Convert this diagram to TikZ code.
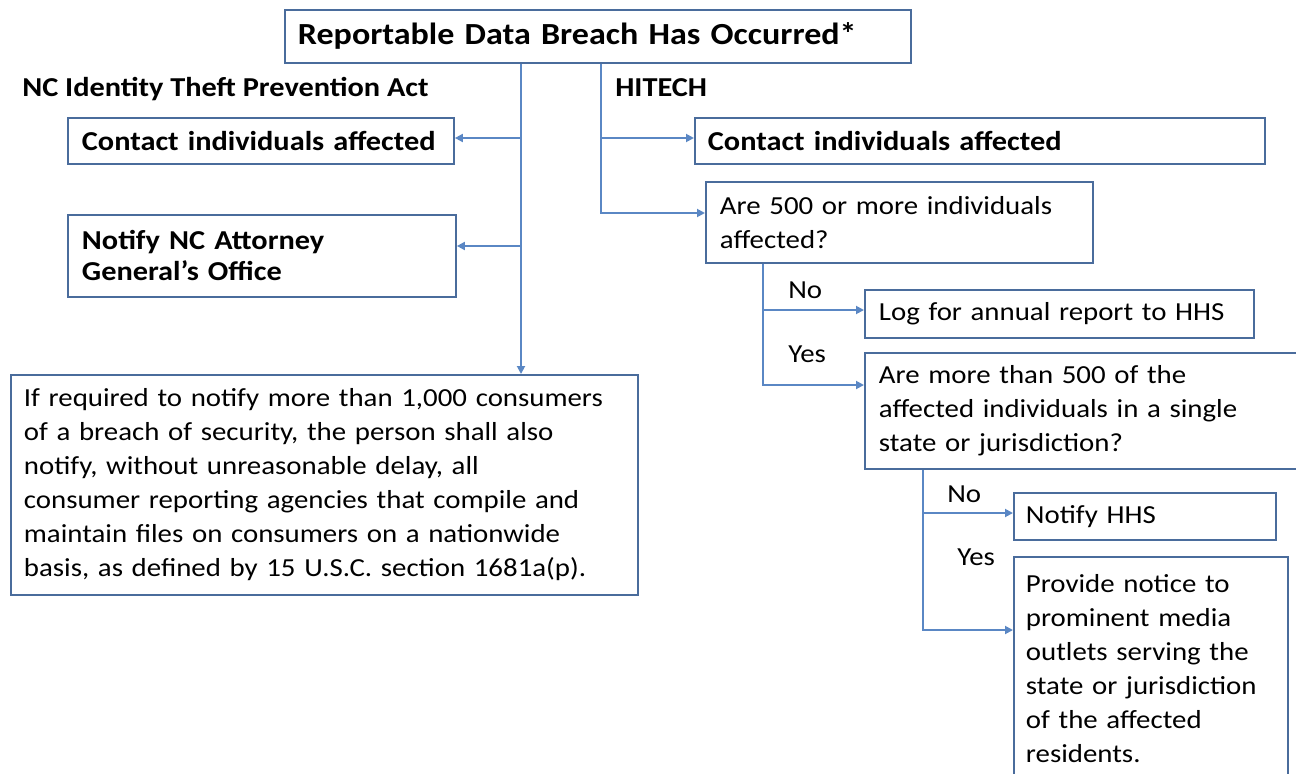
\documentclass[tikz,border=0pt]{standalone}
\usepackage{fontspec}
\setmainfont{Carlito}[FakeStretch=1.11]
\usetikzlibrary{arrows.meta,calc}
\definecolor{linec}{HTML}{5A87C4}
\definecolor{boxc}{HTML}{4A6C9C}
\newcommand\pxl{0.75pt}
\tikzset{
  bx/.style={draw=boxc, line width=1.4pt, anchor=north west, align=left, inner ysep=0pt, fill=white},
  conn/.style={draw=linec, line width=1.4pt},
  arr/.style={conn, -{Triangle[length=6pt,width=6pt]}},
  regf/.style={font=\fontsize{19.5}{25.5}\selectfont},
  boldf/.style={font=\fontsize{20.5}{23.25}\selectfont\bfseries},
  lbl/.style={anchor=base west, inner sep=0pt},
}
\begin{document}
\begin{tikzpicture}[x=0.75pt,y=-0.75pt]
\useasboundingbox (0,0) rectangle (1296,774);
\clip (0,0) rectangle (1296,774);
% boxes
\node[bx, font=\fontsize{23}{28}\selectfont\bfseries, minimum width=626*\pxl, minimum height=53*\pxl, text width=600*\pxl, inner xsep=13*\pxl] (title) at (284,9) {Reportable Data Breach Has Occurred*};
\node[lbl, boldf] (nc) at (22,97) {NC Identity Theft Prevention Act};
\node[lbl, boldf] (hi) at (615,97) {HITECH};
\node[bx, boldf, minimum width=386*\pxl, minimum height=46*\pxl, text width=358*\pxl, inner xsep=14*\pxl] (lc1) at (67,117) {Contact individuals affected};
\node[bx, boldf, minimum width=388*\pxl, minimum height=82*\pxl, text width=360*\pxl, inner xsep=14*\pxl] (lc2) at (67,214) {Notify NC Attorney\\General’s Office};
\node[bx, regf, minimum width=627*\pxl, minimum height=220*\pxl, text width=601*\pxl, inner xsep=13*\pxl] (lc3) at (10,374) {If required to notify more than 1,000 consumers\\of a breach of security, the person shall also\\notify, without unreasonable delay, all\\consumer reporting agencies that compile and\\maintain files on consumers on a nationwide\\basis, as defined by 15 U.S.C. section 1681a(p).};
\node[bx, boldf, minimum width=570*\pxl, minimum height=46*\pxl, text width=544*\pxl, inner xsep=13*\pxl] (rc1) at (694,117) {Contact individuals affected};
\node[bx, regf, minimum width=387*\pxl, minimum height=81*\pxl, text width=359*\pxl, inner xsep=14*\pxl] (q1) at (705,181) {Are 500 or more individuals\\affected?};
\node[bx, regf, minimum width=389*\pxl, minimum height=48*\pxl, text width=361*\pxl, inner xsep=14*\pxl] (log) at (864,289) {Log for annual report to HHS};
\node[bx, regf, minimum width=440*\pxl, minimum height=116*\pxl, text width=412*\pxl, inner xsep=14*\pxl] (q2) at (864,352) {Are more than 500 of the\\affected individuals in a single\\state or jurisdiction?};
\node[bx, regf, minimum width=262*\pxl, minimum height=47*\pxl, text width=238*\pxl, inner xsep=12*\pxl] (nh) at (1013,492) {Notify HHS};
\node[bx, regf, minimum width=274*\pxl, minimum height=224*\pxl, text width=250*\pxl, inner xsep=12*\pxl] (pr) at (1013,556) {Provide notice to\\prominent media\\outlets serving the\\state or jurisdiction\\of the affected\\residents.};
% labels
\node[lbl, regf] (no1) at (788,298) {No};
\node[lbl, regf] (yes1) at (788,362) {Yes};
\node[lbl, regf] (no2) at (947,502) {No};
\node[lbl, regf] (yes2) at (957,565) {Yes};
% junction coordinates
\coordinate (jL) at (521,0);
\coordinate (jR) at (601,0);
\coordinate (jQ) at (763,0);
\coordinate (jS) at (923,0);
\coordinate (e1) at ($(lc1.north east)+(0,21)$);
\coordinate (e2) at ($(lc2.north east)+(0,32)$);
\coordinate (e3) at ($(rc1.north west)+(0,21)$);
\coordinate (e4) at ($(q1.north west)+(0,32)$);
\coordinate (e5) at ($(log.north west)+(0,21)$);
\coordinate (e6) at ($(q2.north west)+(0,33)$);
\coordinate (e7) at ($(nh.north west)+(0,21)$);
\coordinate (e8) at ($(pr.north west)+(0,74)$);
% left trunk
\draw[arr] (title.south -| jL) -- (lc3.north -| jL);
\draw[arr] (e1 -| jL) -- (e1);
\draw[arr] (e2 -| jL) -- (e2);
% right trunk
\draw[arr] (title.south -| jR) |- (e4);
\draw[arr] (e3 -| jR) -- (e3);
% q1 branches
\draw[arr] (q1.south -| jQ) |- (e6);
\draw[arr] (e5 -| jQ) -- (e5);
% q2 branches
\draw[arr] (q2.south -| jS) |- (e8);
\draw[arr] (e7 -| jS) -- (e7);
\end{tikzpicture}
\end{document}
